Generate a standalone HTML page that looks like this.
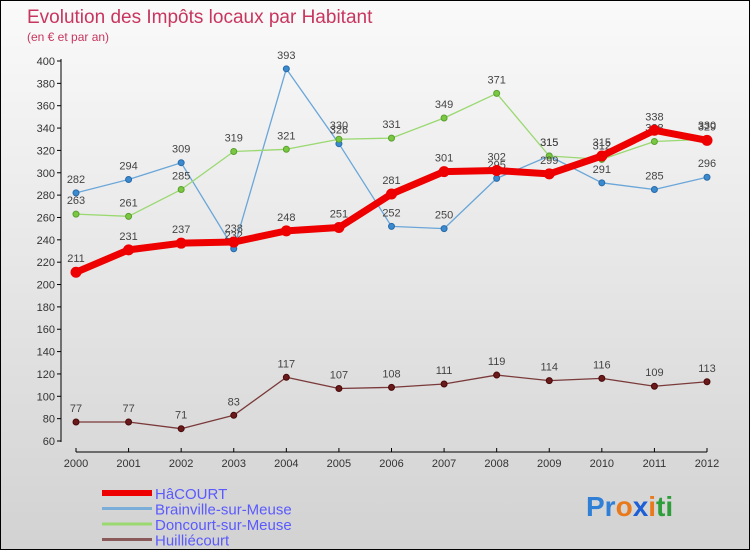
<!DOCTYPE html>
<html><head><meta charset="utf-8"><style>
body{margin:0;}
#c{width:750px;height:550px;position:relative;overflow:hidden;box-sizing:border-box;border:1px solid #000;background:linear-gradient(#fafafa,#d2d2d2);font-family:"Liberation Sans",sans-serif;}
</style></head><body>
<div id="c">
<svg id="s" width="750" height="550" style="position:absolute;left:0;top:0">
<text x="26" y="22" font-size="19" fill="#c8365f">Evolution des Impôts locaux par Habitant</text>
<text x="26" y="40" font-size="12" fill="#c8365f">(en € et par an)</text>
<g id="axes"></g><g id="series"></g>
<text x="585" y="515" font-size="28" font-weight="bold"><tspan fill="#2f7fd6">Pr</tspan><tspan fill="#e87a1c">o</tspan><tspan fill="#1c5fd6">x</tspan><tspan fill="#e87a1c">i</tspan><tspan fill="#2e9e3a">ti</tspan></text>
</svg>
</div>
<script>
const years=[2000,2001,2002,2003,2004,2005,2006,2007,2008,2009,2010,2011,2012];
const yTicks=[60,80,100,120,140,160,180,200,220,240,260,280,300,320,340,360,380,400];
const hacourt=[211,231,237,238,248,251,281,301,302,299,315,338,329];
const brainville=[282,294,309,232,393,326,252,250,295,315,291,285,296];
const doncourt=[263,261,285,319,321,330,331,349,371,315,312,328,330];
const huilliecourt=[77,77,71,83,117,107,108,111,119,114,116,109,113];
const NS="http://www.w3.org/2000/svg";
function X(i){return 75+i*(706-75)/12;}
function Y(v){return 440-(v-60)*380/340;}
function mk(t,a,p){const e=document.createElementNS(NS,t);for(const k in a)e.setAttribute(k,a[k]);p.appendChild(e);return e;}
const ax=document.getElementById('axes');
let l=mk('line',{x1:60,y1:58,x2:60,y2:441,stroke:'#000'},ax);


l=mk('line',{x1:75,y1:451,x2:706,y2:451,stroke:'#000'},ax);


yTicks.forEach(v=>{const y=Y(v);
 mk('line',{x1:56,y1:y,x2:60,y2:y,stroke:'#000'},ax);
 const t=mk('text',{x:54,y:y+4,'font-size':11,'text-anchor':'end',fill:'#333'},ax);t.textContent=v;
 
 });
years.forEach((yr,i)=>{const x=X(i);
 mk('line',{x1:x,y1:447,x2:x,y2:451,stroke:'#000'},ax);
 const t=mk('text',{x:x,y:466,'font-size':11,'text-anchor':'middle',fill:'#333'},ax);t.textContent=yr;
 
 });
const sg=document.getElementById('series');
function draw(data,name,col,w,r,dot,lw){
 const g=mk('g',{},sg);
 
 
 const p=mk('polyline',{points:data.map((v,i)=>X(i)+','+Y(v)).join(' '),fill:'none',stroke:col,'stroke-width':w,'stroke-linejoin':'round'},g);
 
 
 data.forEach((v,i)=>{const c=mk('circle',{cx:X(i),cy:Y(v),r:r,fill:dot,stroke:lw,'stroke-width':1},g);
  
  
  const t=mk('text',{x:X(i),y:Y(v)-10,'font-size':11,'text-anchor':'middle',fill:'#444'},g);t.textContent=v;
  
  });
}
draw(huilliecourt,'huilliecourt','#7a3a3a',1.3,3,'#6a1a1a','#4a0a0a');
draw(brainville,'brainville','#6aa6d8',1.3,3,'#3a8ad0','#2a6aa8');
draw(doncourt,'doncourt','#9ad870',1.3,3,'#7ac840','#5aa030');
draw(hacourt,'hacourt','#ee0000',7,5,'#ee0000','#ee0000');
const leg=[['HâCOURT','#ee0000',6],['Brainville-sur-Meuse','#7aaed8',3],['Doncourt-sur-Meuse','#9ad870',3],['Huilliécourt','#8a5a5a',3]];
leg.forEach((e,i)=>{const y=492+i*15.5;
 const g=mk('g',{},sg);
 
 
 mk('line',{x1:101,y1:y,x2:151,y2:y,stroke:e[1],'stroke-width':e[2]},g);
 const t=mk('text',{x:154,y:y+6,'font-size':15,fill:'#5a5aff'},g);t.textContent=e[0];});
</script>
</body></html>
